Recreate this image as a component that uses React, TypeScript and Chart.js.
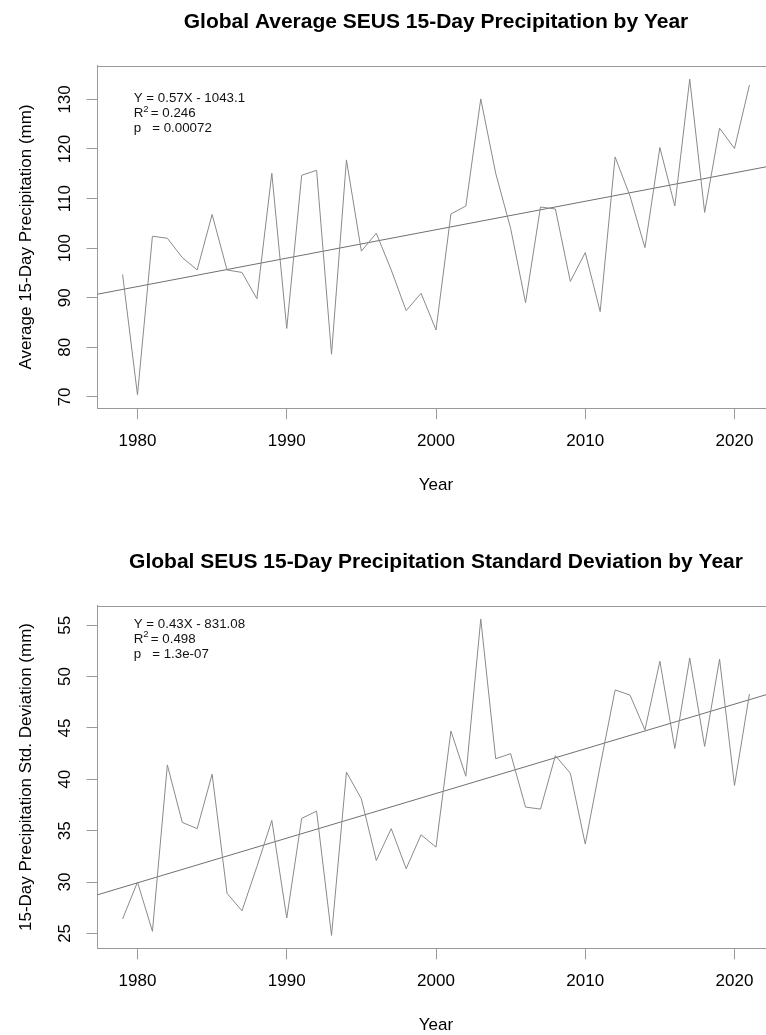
import React, { useEffect, useRef } from "react";
import { Chart, registerables } from "chart.js";

Chart.register(...registerables);

// ---------- data ----------
const YEARS = [
  1979, 1980, 1981, 1982, 1983, 1984, 1985, 1986, 1987, 1988, 1989, 1990, 1991, 1992, 1993,
  1994, 1995, 1996, 1997, 1998, 1999, 2000, 2001, 2002, 2003, 2004, 2005, 2006, 2007, 2008,
  2009, 2010, 2011, 2012, 2013, 2014, 2015, 2016, 2017, 2018, 2019, 2020, 2021,
];

const AVG_PRECIP = [
  94.7, 70.4, 102.4, 102.0, 98.1, 95.6, 106.8, 95.6, 95.1, 89.8, 115.1, 83.8, 114.7, 115.7, 78.6,
  117.8, 99.4, 103.0, 95.6, 87.4, 90.9, 83.5, 106.9, 108.5, 130.1, 115.1, 104.0, 89.0, 108.3, 107.9,
  93.3, 99.1, 87.2, 118.4, 110.5, 100.1, 120.3, 108.5, 134.1, 107.2, 124.2, 120.1, 132.9,
];

const STD_PRECIP = [
  26.4, 30.0, 25.2, 41.4, 35.8, 35.2, 40.5, 28.9, 27.2, 31.5, 36.0, 26.5, 36.2, 36.9, 24.8,
  40.7, 38.1, 32.1, 35.2, 31.3, 34.6, 33.4, 44.7, 40.3, 55.6, 42.0, 42.5, 37.3, 37.1, 42.3,
  40.6, 33.7, 41.3, 48.7, 48.2, 44.8, 51.5, 43.0, 51.8, 43.2, 51.7, 39.4, 48.3,
];

// regression fits (as printed / drawn)
const AVG_FIT = { slope: 0.57341, intercept: -1043.1 };
const STD_FIT = { slope: 0.43485, intercept: -831.08 };

const AVG_NOTE = ["Y = 0.57X - 1043.1", "0.246", "p   = 0.00072"];
const STD_NOTE = ["Y = 0.43X - 831.08", "0.498", "p   = 1.3e-07"];

const X_RANGE = [1977.32, 2022.68];
const AVG_Y_RANGE = [67.7, 136.8];
const STD_Y_RANGE = [23.55, 56.9];

const FONT = '"Liberation Sans", Arial, Helvetica, sans-serif';

// ---------- plugins ----------
const framePlugin = {
  id: "frameBox",
  afterDraw(chart: any) {
    const { ctx, chartArea: a } = chart;
    ctx.save();
    ctx.strokeStyle = "#9a9a9a";
    ctx.lineWidth = 1;
    ctx.beginPath();
    ctx.moveTo(a.left, Math.round(a.top) + 0.5);
    ctx.lineTo(a.right, Math.round(a.top) + 0.5);
    ctx.moveTo(Math.round(a.right) + 0.5, a.top);
    ctx.lineTo(Math.round(a.right) + 0.5, a.bottom);
    ctx.stroke();
    ctx.restore();
  },
};

// main title centred over the plotting region (as R does)
const plotTitlePlugin = {
  id: "plotTitle",
  afterDraw(chart: any, _args: any, opts: any) {
    if (!opts || !opts.text) return;
    const { ctx, chartArea: a } = chart;
    ctx.save();
    ctx.fillStyle = "#000";
    ctx.textAlign = "center";
    ctx.textBaseline = "middle";
    ctx.font = `bold 21px ${FONT}`;
    ctx.fillText(opts.text, (a.left + a.right) / 2, opts.y);
    ctx.restore();
  },
};

const notePlugin = {
  id: "statsNote",
  afterDraw(chart: any, _args: any, opts: any) {
    if (!opts || !opts.lines) return;
    const { ctx } = chart;
    const xs = chart.scales.x;
    const ys = chart.scales.y;
    const x0 = xs.getPixelForValue(opts.x);
    const y0 = ys.getPixelForValue(opts.y);
    const gap = opts.gap;
    ctx.save();
    ctx.fillStyle = "#111";
    ctx.textAlign = "left";
    ctx.textBaseline = "middle";
    ctx.font = `13.3px ${FONT}`;
    ctx.fillText(opts.lines[0], x0, y0);
    // R^2 line
    const y1 = y0 + gap;
    ctx.fillText("R", x0, y1);
    const rW = ctx.measureText("R").width;
    ctx.font = `9.5px ${FONT}`;
    ctx.fillText("2", x0 + rW, y1 - 4.5);
    ctx.font = `13.3px ${FONT}`;
    ctx.fillText("= " + opts.lines[1], x0 + rW + 7.5, y1);
    ctx.fillText(opts.lines[2], x0, y0 + 2 * gap);
    ctx.restore();
  },
};

// ---------- panel ----------
type PanelProps = {
  top: number;
  title: string;
  yTitle: string;
  values: number[];
  yRange: number[];
  yStep: number;
  yTickPad: number;
  fit: { slope: number; intercept: number };
  note: string[];
  noteY: number;
};

function Panel(p: PanelProps) {
  const ref = useRef<HTMLCanvasElement | null>(null);

  useEffect(() => {
    if (!ref.current) return;
    const axisFont = { family: FONT, size: 17 };
    const chart = new Chart(ref.current, {
      type: "line",
      data: {
        datasets: [
          {
            data: YEARS.map((x, i) => ({ x, y: p.values[i] })),
            borderColor: "#8a8a8a",
            borderWidth: 1,
            pointRadius: 0,
            tension: 0,
          },
          {
            data: X_RANGE.map((x) => ({ x, y: p.fit.slope * x + p.fit.intercept })),
            borderColor: "#707070",
            borderWidth: 1,
            pointRadius: 0,
            tension: 0,
          },
        ],
      },
      options: {
        responsive: false,
        animation: false,
        events: [],
        layout: { padding: { left: 0, right: 97.5, top: 65.7, bottom: 0 } },
        plugins: {
          legend: { display: false },
          tooltip: { enabled: false },
          title: { display: false },
          plotTitle: { text: p.title, y: 22 },
          statsNote: { lines: p.note, x: 1979.75, y: p.noteY, gap: 15 },
        } as any,
        scales: {
          x: {
            type: "linear",
            min: X_RANGE[0],
            max: X_RANGE[1],
            afterFit: (s: any) => {
              s.height = 131.7;
            },
            ticks: {
              stepSize: 10,
              includeBounds: false,
              padding: 12,
              color: "#000",
              font: axisFont,
              maxRotation: 0,
              callback: (v: any) => String(v),
            },
            grid: { drawOnChartArea: false, drawTicks: true, tickLength: 11, color: "#9a9a9a" },
            border: { display: true, color: "#9a9a9a" },
            title: {
              display: true,
              text: "Year",
              color: "#000",
              font: axisFont,
              padding: { top: 0, bottom: 44.8 },
            },
          },
          y: {
            type: "linear",
            min: p.yRange[0],
            max: p.yRange[1],
            afterFit: (s: any) => {
              s.width = 97.5;
            },
            ticks: {
              stepSize: p.yStep,
              includeBounds: false,
              padding: p.yTickPad,
              color: "#000",
              font: axisFont,
              minRotation: 90,
              maxRotation: 90,
              crossAlign: "center",
              callback: (v: any) => String(v),
            },
            grid: { drawOnChartArea: false, drawTicks: true, tickLength: 11, color: "#9a9a9a" },
            border: { display: true, color: "#9a9a9a" },
            title: {
              display: true,
              text: p.yTitle,
              color: "#000",
              font: axisFont,
              padding: { top: 16.3, bottom: 0 },
            },
          },
        },
      } as any,
      plugins: [framePlugin, plotTitlePlugin, notePlugin],
    });
    return () => chart.destroy();
  }, []);

  return (
    <div style={{ position: "absolute", left: 0, top: p.top, width: 872, height: 540 }}>
      <canvas ref={ref} width={872} height={540} style={{ display: "block" }} />
    </div>
  );
}

export default function App() {
  return (
    <div
      style={{
        position: "absolute",
        left: 0,
        top: 0,
        width: 766,
        height: 1035,
        overflow: "hidden",
        background: "#fff",
      }}
    >
      <Panel
        top={0}
        title="Global Average SEUS 15-Day Precipitation by Year"
        yTitle="Average 15-Day Precipitation (mm)"
        values={AVG_PRECIP}
        yRange={AVG_Y_RANGE}
        yStep={10}
        yTickPad={7.3}
        fit={AVG_FIT}
        note={AVG_NOTE}
        noteY={130.2}
      />
      <Panel
        top={540}
        title="Global SEUS 15-Day Precipitation Standard Deviation by Year"
        yTitle="15-Day Precipitation Std. Deviation (mm)"
        values={STD_PRECIP}
        yRange={STD_Y_RANGE}
        yStep={5}
        yTickPad={12}
        fit={STD_FIT}
        note={STD_NOTE}
        noteY={55.1}
      />
    </div>
  );
}
